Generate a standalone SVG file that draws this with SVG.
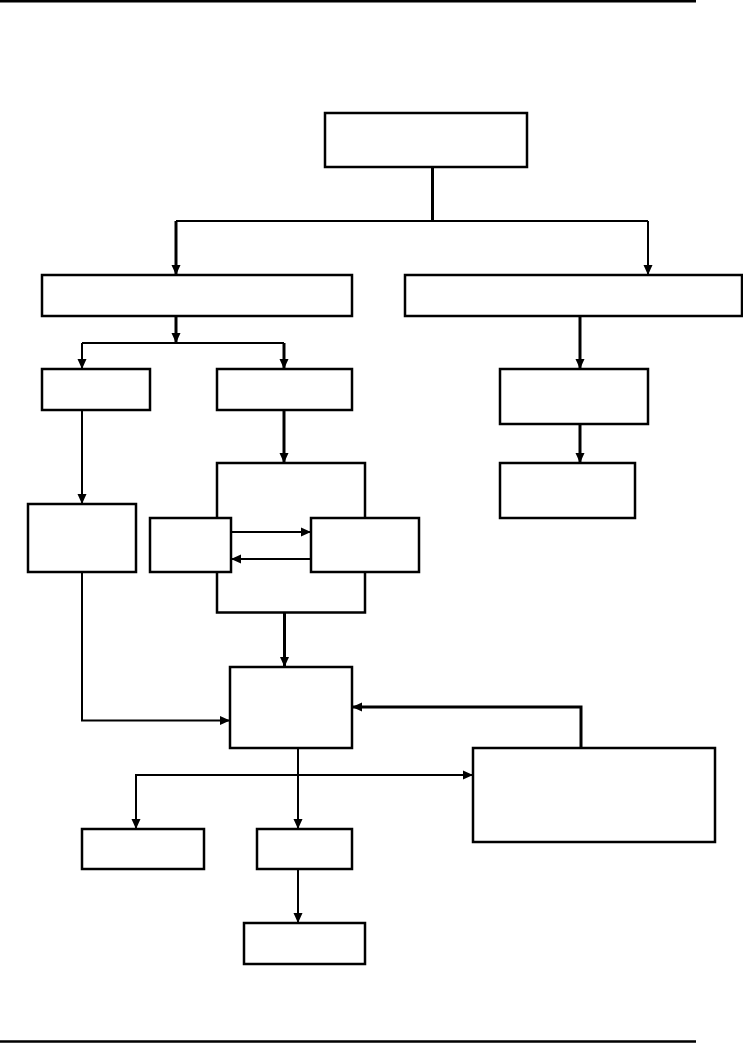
<svg xmlns="http://www.w3.org/2000/svg" width="743" height="1044" viewBox="0 0 743 1044">
<style>
.box{fill:#fff;stroke:#000;stroke-width:2.5}
.ln{fill:none;stroke:#000;stroke-width:2}
.tk{fill:none;stroke:#000;stroke-width:3}
.rule{stroke:#000;stroke-width:2.5}
</style>
<defs>
<marker id="ah" markerUnits="userSpaceOnUse" markerWidth="10" markerHeight="10" refX="10" refY="5" orient="auto">
<path d="M0,0.5 L10,5 L0,9.5 z" fill="#000"/>
</marker>
</defs>
<rect width="743" height="1044" fill="#fff"/>
<line class="rule" x1="0" y1="1.2" x2="696" y2="1.2"/>
<line class="rule" x1="0" y1="1041.5" x2="696" y2="1041.5"/>
<g id="connectors">
<path class="tk" d="M432.5,167 V220.5"/>
<path class="ln" d="M176,221 H648"/>
<path class="tk" d="M176,221 V275" marker-end="url(#ah)"/>
<path class="ln" d="M648,221 V275" marker-end="url(#ah)"/>
<path class="tk" d="M176,316 V343" marker-end="url(#ah)"/>
<path class="ln" d="M82,343 H284"/>
<path class="ln" d="M82,343 V369" marker-end="url(#ah)"/>
<path class="tk" d="M284,343 V369" marker-end="url(#ah)"/>
<path class="tk" d="M580,316 V369" marker-end="url(#ah)"/>
<path class="tk" d="M580,424 V463" marker-end="url(#ah)"/>
<path class="ln" d="M82,410 V504" marker-end="url(#ah)"/>
<path class="tk" d="M284,410 V463" marker-end="url(#ah)"/>
<path class="ln" d="M82,572 V720.5 H230" marker-end="url(#ah)"/>
<path class="tk" d="M284.5,612.5 V667" marker-end="url(#ah)"/>
<path class="tk" d="M581,748 V707 H352" marker-end="url(#ah)"/>
<path class="ln" d="M298,748 V829" marker-end="url(#ah)"/>
<path class="ln" d="M136,829 V775 H473" marker-end="url(#ah)"/>
<path class="ln" d="M136,775 V829" marker-end="url(#ah)"/>
<path class="ln" d="M298,869 V923" marker-end="url(#ah)"/>
</g>
<g id="n-top"><rect class="box" x="325" y="113" width="202" height="54"/></g>
<g id="n-a"><rect class="box" x="42" y="275" width="310" height="41"/></g>
<g id="n-d"><rect class="box" x="405" y="275" width="337" height="41"/></g>
<g id="n-b"><rect class="box" x="42" y="369" width="108" height="41"/></g>
<g id="n-c"><rect class="box" x="217" y="369" width="135" height="41"/></g>
<g id="n-e"><rect class="box" x="500" y="369" width="148" height="55"/></g>
<g id="n-f"><rect class="box" x="500" y="463" width="135" height="55"/></g>
<g id="n-g"><rect class="box" x="28" y="504" width="108" height="68"/></g>
<g id="n-container"><rect class="box" x="217" y="463" width="148" height="149.5"/></g>
<g id="n-i"><rect class="box" x="150" y="518" width="81" height="54"/></g>
<g id="n-j"><rect class="box" x="311" y="518" width="108" height="54"/></g>
<g id="connectors-inner">
<path class="ln" d="M231,532 H311" marker-end="url(#ah)"/>
<path class="ln" d="M311,559 H231" marker-end="url(#ah)"/>
</g>
<g id="n-h"><rect class="box" x="230" y="667" width="122" height="81"/></g>
<g id="n-k"><rect class="box" x="473" y="748" width="242" height="94"/></g>
<g id="n-l"><rect class="box" x="82" y="829" width="122" height="40"/></g>
<g id="n-m"><rect class="box" x="257" y="829" width="95" height="40"/></g>
<g id="n-n"><rect class="box" x="244" y="923" width="121" height="41"/></g>
</svg>
